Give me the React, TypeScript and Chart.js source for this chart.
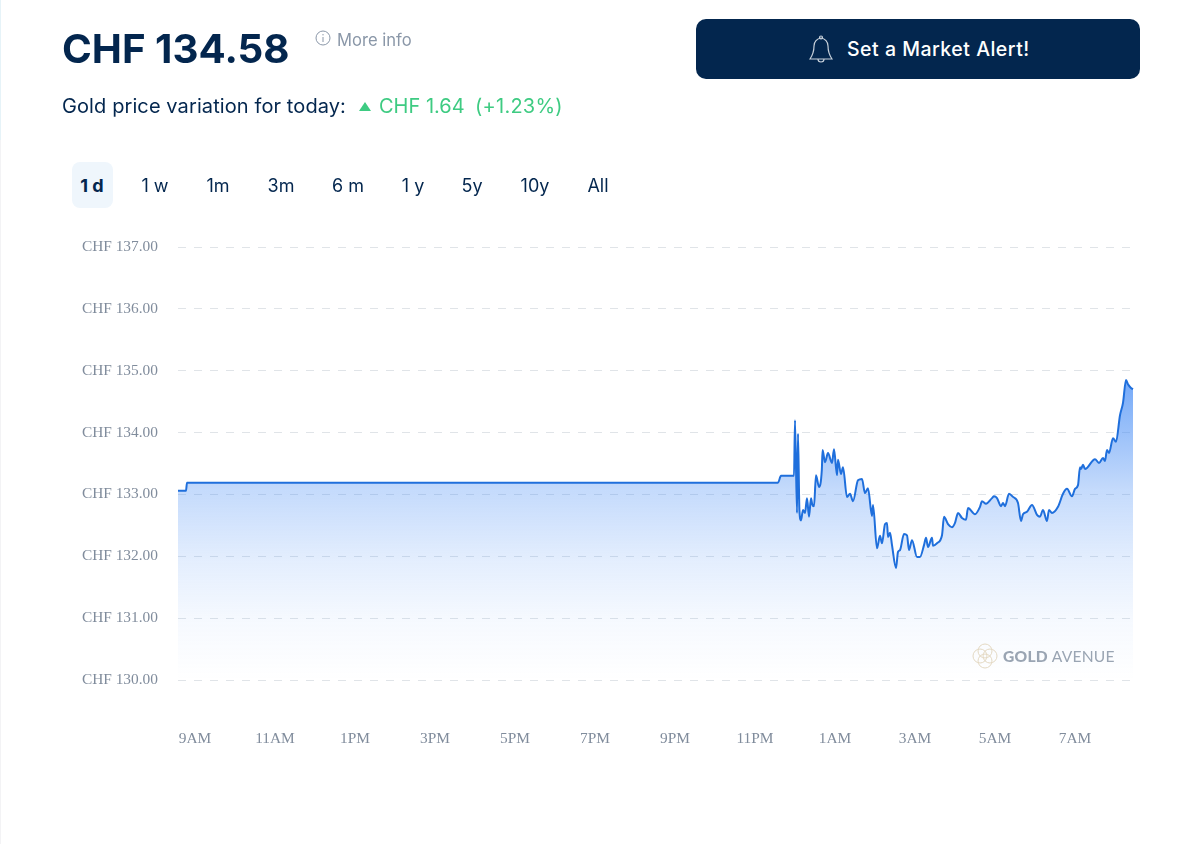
import React, { useEffect, useRef } from "react";
import { Chart, registerables } from "chart.js";

Chart.register(...registerables);

const hours = [
  -0.425, -0.225, -0.2, 14.575, 14.65, 14.975, 15, 15.05, 15.075, 15.11, 15.15, 15.2, 15.25, 15.3, 15.35, 15.4, 15.43,
  15.475, 15.525, 15.6, 15.67, 15.69, 15.75, 15.825, 15.925, 15.975, 16.05, 16.075, 16.15, 16.2, 16.3, 16.375, 16.45,
  16.575, 16.675, 16.75, 16.825, 16.925, 16.95, 17.05, 17.125, 17.175, 17.25, 17.3, 17.325, 17.375, 17.425, 17.525,
  17.575, 17.625, 17.725, 17.8, 17.85, 17.925, 18.05, 18.125, 18.225, 18.275, 18.325, 18.425, 18.45, 18.55, 18.675,
  18.725, 18.825, 18.925, 19, 19.075, 19.175, 19.275, 19.325, 19.5, 19.625, 19.675, 19.775, 19.925, 19.975, 20.05,
  20.15, 20.2, 20.25, 20.35, 20.45, 20.575, 20.65, 20.7, 20.8, 20.925, 21.05, 21.125, 21.2, 21.3, 21.35, 21.425,
  21.575, 21.7, 21.8, 21.925, 22, 22.075, 22.125, 22.15, 22.2, 22.25, 22.5, 22.6, 22.7, 22.75, 22.8, 22.85, 22.95,
  23.025, 23.125, 23.2, 23.275, 23.325, 23.4, 23.45,
];

const prices = [
  133.06, 133.06, 133.19, 133.19, 133.3, 133.3, 134.2, 132.7, 133.98, 132.75, 132.58, 132.75, 132.7, 132.94, 132.64,
  132.94, 132.84, 132.81, 133.31, 133.12, 133.39, 133.72, 133.52, 133.67, 133.51, 133.73, 133.31, 133.56, 133.33,
  133.44, 132.96, 133.01, 132.89, 133.23, 133.25, 133.02, 133.1, 132.65, 132.83, 132.13, 132.33, 132.21, 132.52,
  132.54, 132.31, 132.38, 132.18, 131.81, 132.07, 132.1, 132.36, 132.34, 132.1, 132.26, 131.99, 131.99, 132.18, 132.3,
  132.15, 132.3, 132.17, 132.21, 132.34, 132.64, 132.52, 132.47, 132.54, 132.7, 132.62, 132.59, 132.78, 132.68,
  132.8, 132.89, 132.85, 132.94, 132.97, 132.94, 132.81, 132.86, 132.81, 133.01, 132.96, 132.86, 132.57, 132.68,
  132.72, 132.83, 132.67, 132.64, 132.75, 132.57, 132.75, 132.7, 132.8, 133.01, 133.09, 132.97, 133.09, 133.15,
  133.44, 133.41, 133.48, 133.41, 133.57, 133.51, 133.59, 133.54, 133.72, 133.67, 133.91, 133.85, 134.28, 134.48,
  134.85, 134.78, 134.72, 134.7,
];

const xTickValues = [0, 2, 4, 6, 8, 10, 12, 14, 16, 18, 20, 22];
const xTickLabels = ["9AM", "11AM", "1PM", "3PM", "5PM", "7PM", "9PM", "11PM", "1AM", "3AM", "5AM", "7AM"];
const rangeTabs = ["1 d", "1 w", "1m", "3m", "6 m", "1 y", "5y", "10y", "All"];
const tabCentres = [92, 155, 218, 281, 348, 413, 472, 535, 598];

const navy = "#03264e";
const muted = "#8a97a8";
const axisInk = "#808c9c";
const green = "#3ecb82";
const sans = "Inter, 'Noto Sans', sans-serif";

const abs = (left: number, top: number, extra: React.CSSProperties = {}): React.CSSProperties => ({
  position: "absolute",
  left,
  top,
  whiteSpace: "nowrap",
  ...extra,
});

export default function App() {
  const ref = useRef<HTMLCanvasElement>(null);

  useEffect(() => {
    document.body.style.margin = "0";
    const chart = new Chart(ref.current!, {
      type: "line",
      data: {
        datasets: [
          {
            data: hours.map((h, i) => ({ x: h, y: prices[i] })),
            borderColor: "#1f6fdc",
            borderWidth: 2,
            pointRadius: 0,
            cubicInterpolationMode: "monotone",
            fill: "start",
            backgroundColor: (c: any) => {
              const { ctx, chartArea, scales } = c.chart;
              if (!chartArea) return "transparent";
              const g = ctx.createLinearGradient(0, scales.y.getPixelForValue(134.85), 0, chartArea.bottom);
              g.addColorStop(0, "rgba(70,140,245,0.75)");
              g.addColorStop(0.36, "rgba(70,140,245,0.32)");
              g.addColorStop(0.6, "rgba(70,140,245,0.15)");
              g.addColorStop(0.8, "rgba(70,140,245,0.05)");
              g.addColorStop(1, "rgba(70,140,245,0)");
              return g;
            },
          },
        ],
      },
      options: {
        animation: false,
        responsive: false,
        layout: { padding: { top: 247, right: 65, bottom: 0, left: 0 } },
        plugins: { legend: { display: false }, tooltip: { enabled: false } },
        scales: {
          x: {
            type: "linear",
            min: -0.425,
            max: 23.5,
            border: { display: false },
            grid: { display: false, drawTicks: false },
            afterBuildTicks: (s: any) => {
              s.ticks = xTickValues.map((value) => ({ value }));
            },
            afterFit: (s: any) => {
              s.height = 164;
            },
            ticks: {
              autoSkip: false,
              maxRotation: 0,
              padding: 50,
              color: axisInk,
              font: { family: "'Liberation Serif', serif", size: 15.4 },
              callback: (v: any) => xTickLabels[xTickValues.indexOf(Number(v))],
            },
          },
          y: {
            min: 130,
            max: 137,
            border: { display: false, dash: [8, 8] },
            grid: { color: "#e0e4e8", drawTicks: false, lineWidth: 1 },
            afterFit: (s: any) => {
              s.width = 178;
            },
            ticks: {
              stepSize: 1,
              padding: 20,
              color: axisInk,
              font: { family: "'Liberation Serif', serif", size: 15.4 },
              callback: (v: any) => `CHF ${Number(v).toFixed(2)}`,
            },
          },
        },
      },
    } as any);
    return () => chart.destroy();
  }, []);

  return (
    <div style={{ position: "relative", width: 1200, height: 844, background: "#fff", overflow: "hidden", fontFamily: sans, color: navy }}>
      <canvas ref={ref} width={1200} height={844} style={{ position: "absolute", left: 0, top: 0, display: "block" }} />
      <div style={abs(0, 0, { width: 1, height: 140, background: "#e6f3f8" })} />
      <div style={abs(0, 140, { width: 1, height: 704, background: "#f3f3f5" })} />
      <div style={abs(62, 24, { fontSize: 40.3, fontWeight: 700, lineHeight: "50px" })}>CHF 134.58</div>
      <svg style={abs(315, 30)} width={16} height={16} viewBox="0 0 16 16" fill="none" stroke={muted} strokeWidth={1}>
        <circle cx={8} cy={8} r={7} />
        <path d="M8 7v5M8 4v1.4" />
      </svg>
      <div style={abs(337, 30, { fontSize: 16.6, color: muted, lineHeight: "21px" })}>More info</div>
      <div style={abs(62, 93, { fontSize: 20, lineHeight: "26px", letterSpacing: 0.1 })}>Gold price variation for today:</div>
      <svg style={abs(359, 102)} width={12} height={9} viewBox="0 0 12 9">
        <path d="M6 0L12 9H0Z" fill={green} />
      </svg>
      <div style={abs(379, 93, { fontSize: 20, color: green, lineHeight: "26px" })}>CHF 1.64</div>
      <div style={abs(475, 93, { fontSize: 20, color: green, lineHeight: "26px", letterSpacing: 0.25 })}>(+1.23%)</div>

      <div style={abs(696, 19, { width: 444, height: 60, background: navy, borderRadius: 10 })} />
      <svg style={abs(808, 35)} width={26} height={29} viewBox="0 0 26 29" fill="none" stroke="#c7d0da" strokeWidth={1.2}>
        <path d="M13 3a8 8 0 0 0-7 8c0 7-2 10-4 13h22c-2-3-4-6-4-13a8 8 0 0 0-7-8Z" />
        <circle cx={13} cy={2.5} r={1.5} />
        <path d="M10 24a3 3 0 0 0 6 0" />
      </svg>
      <div style={abs(847, 37, { fontSize: 19.5, fontWeight: 500, color: "#fff", lineHeight: "24px", letterSpacing: 0.5 })}>Set a Market Alert!</div>

      <div style={abs(72, 162, { width: 41, height: 46, borderRadius: 8, background: "#eff6fc" })} />
      {rangeTabs.map((t, i) => (
        <div
          key={t}
          style={abs(tabCentres[i], 175, {
            transform: "translateX(-50%)",
            fontSize: 18,
            lineHeight: "22px",
            fontWeight: i === 0 ? 700 : 400,
          })}
        >
          {t}
        </div>
      ))}

      <svg style={abs(972, 643)} width={26} height={26} viewBox="0 0 26 26" fill="none" stroke="#e3d8c2" strokeWidth={1}>
        <circle cx={13} cy={8} r={7} />
        <circle cx={13} cy={18} r={7} />
        <circle cx={8} cy={13} r={7} />
        <circle cx={18} cy={13} r={7} />
      </svg>
      <div style={abs(1003, 646, { fontSize: 15.6, lineHeight: "20px", color: "#9aa5b3", fontFamily: "Lato, sans-serif", letterSpacing: 0.25 })}>
        <b style={{ fontWeight: 900 }}>GOLD</b> <span style={{ fontWeight: 400 }}>AVENUE</span>
      </div>
    </div>
  );
}
